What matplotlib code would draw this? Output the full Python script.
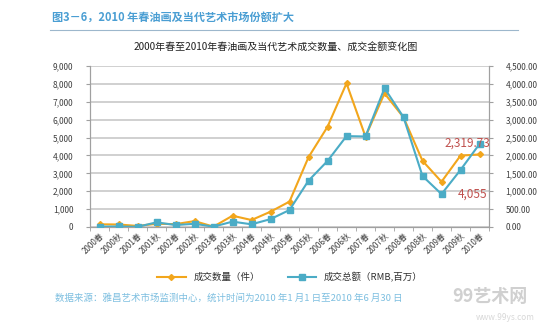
import numpy as np
import matplotlib
matplotlib.use("Agg")
import matplotlib.pyplot as plt
from matplotlib.ticker import FuncFormatter, FixedLocator

plt.rcParams['font.family'] = ['Noto Sans CJK SC', 'DejaVu Sans']

# 成交期
periods = ['2000春', '2000秋', '2001春', '2001秋', '2002春', '2002秋', '2003春',
           '2003秋', '2004春', '2004秋', '2005春', '2005秋', '2006春', '2006秋',
           '2007春', '2007秋', '2008春', '2008秋', '2009春', '2009秋', '2010春']
# 成交数量（件）
qty = [150, 140, 60, 180, 160, 330, 20, 630, 390, 855, 1420, 3900, 5600, 8030,
       5050, 7470, 6130, 3700, 2530, 3990, 4055]
# 成交总额（RMB,百万）
amount = [10, 15, 5, 130, 55, 90, 10, 150, 75, 220, 475, 1295, 1845, 2540,
          2530, 3880, 3070, 1425, 920, 1595, 2319.73]

orange = '#F2A61C'
blue = '#4BACC6'
grid_c = '#C8C8C8'
txt_c = '#404040'

fig = plt.figure(figsize=(5.54, 3.32), dpi=100)
fig.patch.set_facecolor('white')

# 图题和分隔线
fig.text(52/554, 1-17/332, '图3－6，2010 年春油画及当代艺术市场份额扩大', color='#4A9ED3',
         fontsize=8, fontweight='bold', style='italic', va='center', ha='left')
fig.add_artist(plt.Line2D([50/554, 518/554], [1-30/332, 1-30/332], color='#9DB7CC', lw=0.8))
fig.text(276/554, 1-48/332, '2000年春至2010年春油画及当代艺术成交数量、成交金额变化图',
         color='#202020', fontsize=7.2, ha='center', va='center')

ax = fig.add_axes([90/554, 1-227/332, (489-90)/554, (227-66)/332])
ax2 = ax.twinx()

x = np.arange(len(periods))
ax.plot(x, qty, color=orange, lw=1.5, marker='D', ms=3, zorder=3)
ax2.plot(x, amount, color=blue, lw=1.5, marker='s', ms=5, zorder=3)

ax.set_xlim(-0.5, len(periods) - 0.5)
ax.set_ylim(0, 9000)
ax2.set_ylim(0, 4500)
ax.set_yticks(np.arange(0, 9001, 1000))
ax2.set_yticks(np.arange(0, 4501, 500))
ax.yaxis.set_major_formatter(FuncFormatter(lambda v, p: f'{v:,.0f}'))
ax2.yaxis.set_major_formatter(FuncFormatter(lambda v, p: f'{v:,.2f}'))
ax.grid(axis='y', color=grid_c, lw=1.2)
ax.set_axisbelow(True)

ax.set_xticks(x)
ax.set_xticklabels(periods, rotation=45, ha='right', va='top', rotation_mode='anchor',
                   fontsize=5.8, color=txt_c)
ax.tick_params(axis='x', which='major', length=0, pad=3)
ax.xaxis.set_minor_locator(FixedLocator(np.arange(-0.5, len(periods), 1)))
ax.tick_params(axis='x', which='minor', length=3, color='#A0A0A0')
ax.tick_params(axis='y', labelsize=6, labelcolor=txt_c, length=3, color='#A0A0A0', pad=9)
ax2.tick_params(axis='y', labelsize=6, labelcolor=txt_c, length=3, color='#A0A0A0', pad=9)

for a in (ax, ax2):
    a.spines['top'].set_visible(False)
    for s in ('left', 'right', 'bottom'):
        a.spines[s].set_color('#A0A0A0')
        a.spines[s].set_linewidth(0.8)

# 末期数据标签
ax2.annotate(f'{amount[-1]:,.2f}', (x[-1], amount[-1]), xytext=(-12, 1),
             textcoords='offset pixels', ha='center', va='center',
             color='#C0504D', fontsize=8.5)
ax.annotate(f'{qty[-1]:,.0f}', (x[-1], qty[-1]), xytext=(-7, -40),
            textcoords='offset pixels', ha='center', va='center',
            color='#C0504D', fontsize=8.5)

# 图例
fig.legend(handles=[plt.Line2D([], [], color=orange, lw=1.5, marker='D', ms=3),
                    plt.Line2D([], [], color=blue, lw=1.5, marker='s', ms=4)],
           labels=['成交数量（件）', '成交总额（RMB,百万）'],
           loc='center', bbox_to_anchor=(290/554, 1-277/332), ncol=2, frameon=False,
           fontsize=6.8, handlelength=3, columnspacing=3, labelcolor='#303030')

fig.text(55/554, 1-298/332, '数据来源：雅昌艺术市场监测中心，统计时间为2010 年1 月1 日至2010 年6 月30 日',
         color='#7DBFE0', fontsize=6.8, ha='left', va='center')

# 水印
fig.text(490/554, 1-296/332, '99艺术网', color='#D0D0D0', fontsize=13, fontweight='bold',
         ha='center', va='center')
fig.text(505/554, 1-318/332, 'www.99ys.com', color='#D8D8D8', fontsize=6,
         ha='center', va='center')

fig.savefig('out.png', dpi=100)
